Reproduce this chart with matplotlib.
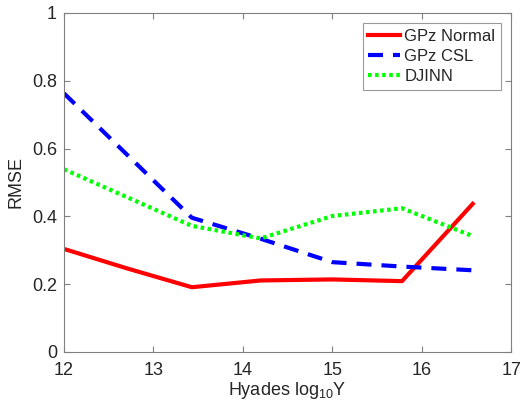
import numpy as np
import matplotlib.pyplot as plt

plt.rcParams['font.family'] = ['Liberation Sans', 'DejaVu Sans']
plt.rcParams['mathtext.fontset'] = 'custom'
plt.rcParams['mathtext.rm'] = 'Liberation Sans'

# log10 Y values and RMSE
x_red = [12.0, 12.7, 13.43, 14.2, 15.0, 15.78, 16.57]
gpz_normal = [0.304, 0.247, 0.191, 0.211, 0.214, 0.209, 0.437]

x_blue = [12.0, 13.43, 14.2, 15.0, 15.78, 16.57]
gpz_csl = [0.763, 0.396, 0.334, 0.265, 0.252, 0.241]

x_green = [12.0, 13.43, 14.2, 15.0, 15.78, 16.57]
djinn = [0.539, 0.372, 0.335, 0.401, 0.424, 0.342]

xticks = [12, 13, 14, 15, 16, 17]
yticks = [0, 0.2, 0.4, 0.6, 0.8, 1]
ytick_labels = ['0', '0.2', '0.4', '0.6', '0.8', '1']

fig = plt.figure(figsize=(5.2, 4.11), dpi=100)
ax = fig.add_axes([0.123, 0.1436, 0.860, 0.8248])

ax.axhline(0, color='#555555', linestyle=(0, (3, 2)), linewidth=0.7, zorder=1)

ax.plot(x_red, gpz_normal, color=(1, 0, 0), linewidth=3, label='GPz Normal')
ax.plot(x_blue, gpz_csl, color=(0, 0, 1), linewidth=3,
        linestyle=(0, (3.6, 2.4)), label='GPz CSL')
ax.plot(x_green, djinn, color=(0, 1, 0), linewidth=3,
        linestyle=(0, (0.85, 0.85)), label='DJINN')

ax.set_xlim(12, 17)
ax.set_ylim(0, 1)
ax.set_xticks(xticks)
ax.set_yticks(yticks)
ax.set_yticklabels(ytick_labels)

for s in ax.spines.values():
    s.set_color('#808080')
    s.set_linewidth(0.8)
ax.tick_params(direction='in', length=4, width=0.8, color='#808080',
               labelsize=13, labelcolor='#262626', top=True, right=True)
ax.tick_params(axis='x', pad=7)
ax.tick_params(axis='y', pad=5)

ax.set_xlabel(r'Hyades log$_{10}$Y', fontsize=13, color='#262626', labelpad=1)
ax.set_ylabel('RMSE', fontsize=13, color='#262626', labelpad=5)

leg = ax.legend(loc='upper right', fontsize=12, frameon=True, fancybox=False,
                edgecolor='#808080', handlelength=1.9, handletextpad=0.25,
                borderpad=0.35, labelspacing=0.3, borderaxespad=0.6)
leg.get_frame().set_linewidth(0.8)
for t in leg.get_texts():
    t.set_color('#262626')

fig.savefig('out.png', dpi=100)
